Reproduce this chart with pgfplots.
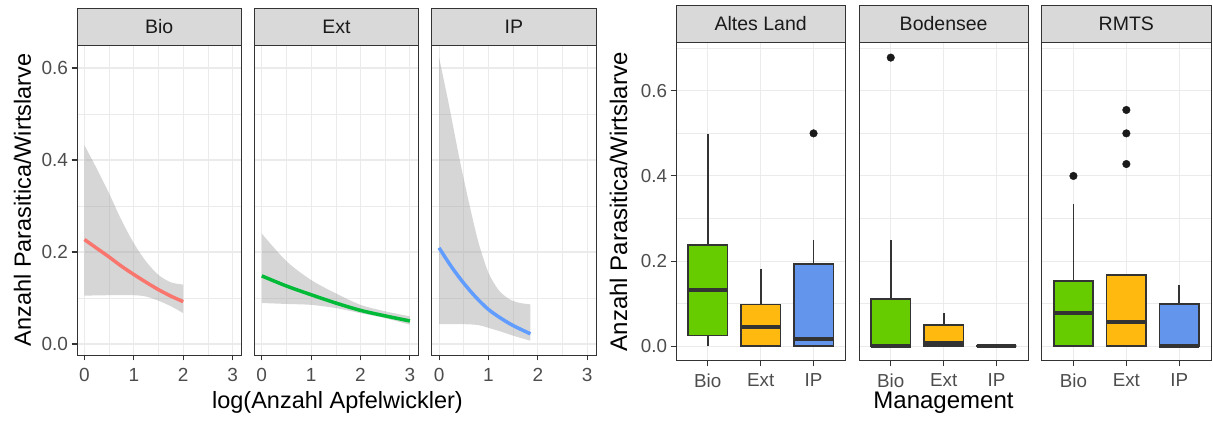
\documentclass[border=0pt]{standalone}
\usepackage{fontspec}
\setmainfont{Liberation Sans}
\usepackage{pgfplots}
\pgfplotsset{compat=1.18}
\usepgfplotslibrary{fillbetween}
\definecolor{g10}{HTML}{1A1A1A}
\definecolor{g20}{HTML}{333333}
\definecolor{g30}{HTML}{4D4D4D}
\definecolor{g85}{HTML}{D9D9D9}
\definecolor{g92}{HTML}{EBEBEB}
\definecolor{band}{HTML}{999999}
\definecolor{cRed}{HTML}{F8766D}
\definecolor{cGreen}{HTML}{00BA38}
\definecolor{cBlue}{HTML}{619CFF}
\definecolor{bGreen}{HTML}{66CC00}
\definecolor{bOrange}{HTML}{FFB90F}
\definecolor{bBlue}{HTML}{6495ED}
\newcommand\ftick{\fontsize{19}{21}\selectfont}
\newcommand\ftickr{\fontsize{18.8}{21}\selectfont}
\newcommand\fstrip{\fontsize{19.5}{21}\selectfont}
\newcommand\ftitle{\fontsize{23.5}{26}\selectfont}
\newcommand\ftitler{\fontsize{24}{26}\selectfont}
\pgfplotsset{
  facet/.style={
    scale only axis, anchor=south west,
    axis line style={g20, line width=0.9pt},
    grid=both,
    major grid style={g92, line width=1.1pt},
    minor grid style={g92, line width=0.55pt},
    xtick style={g20, line width=1.1pt},
    ytick style={g20, line width=1.1pt},
    major tick length=5.5pt, minor tick length=0pt,
    tick align=outside, tick pos=left,
    ticklabel style={text=g30},
    xticklabel shift=4pt,
  },
  leftf/.style={facet, width=164.5pt, height=310pt,
    xmin=-0.151, xmax=3.18, ymin=-0.024, ymax=0.650,
    xtick={0,1,2,3}, xticklabels={0,1,2,3}, minor xtick={0.5,1.5,2.5},
    ytick={0,0.2,0.4,0.6}, minor ytick={0.1,0.3,0.5},
    ticklabel style={font=\ftick},
  },
  rightf/.style={facet, width=169.3pt, height=318pt,
    xmin=0.4, xmax=3.6, ymin=-0.034, ymax=0.713,
    xtick={1,2,3}, xticklabels={Bio,Ext,IP},
    ytick={0,0.2,0.4,0.6}, minor ytick={0.1,0.3,0.5,0.7},
    ticklabel style={font=\ftickr},
  },
  noy/.style={yticklabels={}, y tick style={draw=none}},
  bandfill/.style={fill=band, fill opacity=0.4, draw=none},
  whisk/.style={g20, line width=1.8pt},
  boxs/.style={draw=g20, line width=1.8pt, line cap=rect, line join=miter, fill=#1},
  med/.style={g20, line width=4pt},
  outl/.style={only marks, mark=*, mark size=3.8pt, g10},
}
\newcommand{\strip}[3]{%
  \draw[fill=g85, draw=g20, line width=0.9pt] (#1.north west) rectangle ([yshift=#3]#1.north east);
  \node[font=\fstrip, text=g10] at ([yshift=#3/2]#1.north) {#2};}
\begin{document}
\begin{tikzpicture}
\path (0pt,0pt) rectangle (1213pt,423pt);
% ---------------- left: Bio
\begin{axis}[leftf, name=a1, at={(77pt,68pt)},
  yticklabels={0.0,0.2,0.4,0.6}]
\addplot[name path=u, draw=none, smooth] coordinates {(0,0.432)(0.25,0.381)(0.5,0.327)(0.75,0.269)(1,0.219)(1.25,0.179)(1.5,0.15)(1.75,0.134)(2,0.129)};
\addplot[name path=l, draw=none, smooth] coordinates {(0,0.105)(0.5,0.106)(1,0.106)(1.25,0.103)(1.5,0.094)(1.75,0.082)(2,0.067)};
\addplot[bandfill] fill between[of=u and l];
\addplot[cRed, line width=3.5pt, smooth] coordinates {(0,0.227)(0.25,0.208)(0.5,0.189)(0.75,0.169)(1,0.151)(1.25,0.134)(1.5,0.118)(1.75,0.104)(2,0.092)};
\end{axis}
\strip{a1}{Bio}{37pt}
% ---------------- left: Ext
\begin{axis}[leftf, noy, name=a2, at={(254.3pt,68pt)}]
\addplot[name path=u, draw=none, smooth] coordinates {(0,0.24)(0.5,0.18)(1,0.139)(1.5,0.11)(2,0.085)(2.5,0.071)(3,0.06)};
\addplot[name path=l, draw=none, smooth] coordinates {(0,0.089)(0.5,0.087)(1,0.085)(1.5,0.078)(2,0.067)(2.5,0.056)(3,0.042)};
\addplot[bandfill] fill between[of=u and l];
\addplot[cGreen, line width=3.5pt, smooth] coordinates {(0,0.148)(0.5,0.126)(1,0.107)(1.5,0.089)(2,0.073)(2.5,0.061)(3,0.05)};
\end{axis}
\strip{a2}{Ext}{37pt}
% ---------------- left: IP
\begin{axis}[leftf, noy, name=a3, at={(431.6pt,68pt)}]
\addplot[name path=u, draw=none, smooth] coordinates {(0,0.623)(0.2,0.52)(0.4,0.41)(0.6,0.31)(0.8,0.22)(1,0.155)(1.2,0.118)(1.4,0.099)(1.6,0.09)(1.85,0.086)};
\addplot[name path=l, draw=none, smooth] coordinates {(0,0.043)(0.5,0.043)(0.8,0.041)(1,0.035)(1.25,0.027)(1.5,0.018)(1.85,0.007)};
\addplot[bandfill] fill between[of=u and l];
\addplot[cBlue, line width=3.5pt, smooth] coordinates {(0,0.209)(0.25,0.168)(0.5,0.132)(0.75,0.101)(1,0.075)(1.25,0.056)(1.5,0.04)(1.85,0.022)};
\end{axis}
\strip{a3}{IP}{37pt}
\node[rotate=90, font=\ftitle] at (22.5pt,223pt) {Anzahl Parasitica/Wirtslarve};
\node[anchor=base, font=\ftitle] at (337.5pt,14pt) {log(Anzahl Apfelwickler)};
% ---------------- right: Altes Land
\begin{axis}[rightf, name=b1, at={(676pt,62.3pt)},
  yticklabels={0.0,0.2,0.4,0.6}]
% Bio: lw 0, q1 0.025, med 0.133, q3 0.237, uw 0.499
\addplot[whisk] coordinates {(1,0.237)(1,0.499)};
\addplot[whisk] coordinates {(1,0)(1,0.025)};
\addplot[boxs=bGreen] coordinates {(0.625,0.025)(1.375,0.025)(1.375,0.237)(0.625,0.237)(0.625,0.025)};
\addplot[med] coordinates {(0.625,0.133)(1.375,0.133)};
% Ext: q1 0, med 0.045, q3 0.098, uw 0.182
\addplot[whisk] coordinates {(2,0.098)(2,0.182)};
\addplot[boxs=bOrange] coordinates {(1.625,0)(2.375,0)(2.375,0.098)(1.625,0.098)(1.625,0)};
\addplot[med] coordinates {(1.625,0.045)(2.375,0.045)};
% IP: q1 0, med 0.016, q3 0.193, uw 0.249
\addplot[whisk] coordinates {(3,0.193)(3,0.249)};
\addplot[boxs=bBlue] coordinates {(2.625,0)(3.375,0)(3.375,0.193)(2.625,0.193)(2.625,0)};
\addplot[med] coordinates {(2.625,0.016)(3.375,0.016)};
\addplot[outl] coordinates {(3,0.5)};
\end{axis}
\strip{b1}{Altes Land}{37.7pt}
% ---------------- right: Bodensee
\begin{axis}[rightf, noy, name=b2, at={(859pt,62.3pt)}]
% Bio: q1 0, med 0, q3 0.111, uw 0.249
\addplot[whisk] coordinates {(1,0.111)(1,0.249)};
\addplot[boxs=bGreen] coordinates {(0.625,0)(1.375,0)(1.375,0.111)(0.625,0.111)(0.625,0)};
\addplot[med] coordinates {(0.625,0)(1.375,0)};
% Ext: q1 0, med 0.008, q3 0.049, uw 0.077
\addplot[whisk] coordinates {(2,0.049)(2,0.077)};
\addplot[boxs=bOrange] coordinates {(1.625,0)(2.375,0)(2.375,0.049)(1.625,0.049)(1.625,0)};
\addplot[med] coordinates {(1.625,0.008)(2.375,0.008)};
% IP: all 0
\addplot[boxs=bBlue] coordinates {(2.625,0)(3.375,0)(3.375,0)(2.625,0)(2.625,0)};
\addplot[med] coordinates {(2.625,0)(3.375,0)};
\addplot[outl] coordinates {(1,0.678)};
\end{axis}
\strip{b2}{Bodensee}{37.7pt}
% ---------------- right: RMTS
\begin{axis}[rightf, noy, name=b3, at={(1041.7pt,62.3pt)}]
% Bio: q1 0, med 0.077, q3 0.154, uw 0.333
\addplot[whisk] coordinates {(1,0.154)(1,0.333)};
\addplot[boxs=bGreen] coordinates {(0.625,0)(1.375,0)(1.375,0.154)(0.625,0.154)(0.625,0)};
\addplot[med] coordinates {(0.625,0.077)(1.375,0.077)};
% Ext: q1 0, med 0.058, q3 0.168
\addplot[boxs=bOrange] coordinates {(1.625,0)(2.375,0)(2.375,0.168)(1.625,0.168)(1.625,0)};
\addplot[med] coordinates {(1.625,0.058)(2.375,0.058)};
% IP: q1 0, med 0, q3 0.1, uw 0.143
\addplot[whisk] coordinates {(3,0.1)(3,0.143)};
\addplot[boxs=bBlue] coordinates {(2.625,0)(3.375,0)(3.375,0.1)(2.625,0.1)(2.625,0)};
\addplot[med] coordinates {(2.625,0)(3.375,0)};
\addplot[outl] coordinates {(1,0.4)(2,0.428)(2,0.5)(2,0.555)};
\end{axis}
\strip{b3}{RMTS}{37.7pt}
\node[rotate=90, font=\ftitler] at (618.5pt,221.3pt) {Anzahl Parasitica/Wirtslarve};
\node[anchor=base, font=\ftitler] at (943.5pt,14.5pt) {Management};
\end{tikzpicture}
\end{document}
